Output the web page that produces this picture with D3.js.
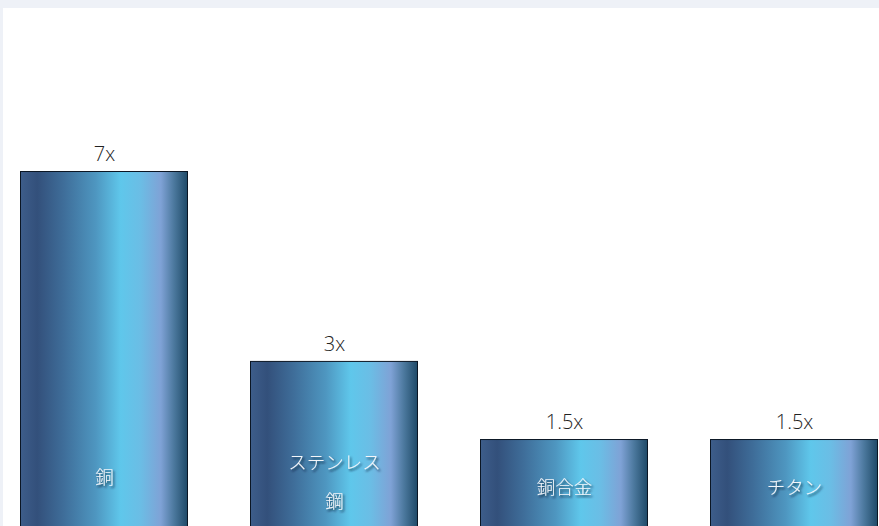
<!DOCTYPE html>
<html>
<head>
<meta charset="utf-8">
<script src="https://cdn.jsdelivr.net/npm/d3@7"></script>
<style>
  html, body { margin: 0; padding: 0; background: #fff; }
  svg { display: block; }
  .val { font-family: "Open Sans", "Noto Sans", sans-serif; font-weight: 300; font-size: 20px; fill: #222; }
  .cat { font-family: "Noto Sans CJK JP", "Noto Sans", sans-serif; font-weight: 300; font-size: 18.5px; fill: #f4f6fa; }
</style>
</head>
<body>
<script>
// materials, multiplier labels and the drawn bar level (visual height, 0-100)
var materials = [["銅"], ["ステンレス", "鋼"], ["銅合金"], ["チタン"]];
var multipliers = ["7x", "3x", "1.5x", "1.5x"];
var barLevel = [100, 46.5, 24.5, 24.5];

var width = 879, height = 526;

var svg = d3.select("body").append("svg")
  .attr("width", width)
  .attr("height", height);

var defs = svg.append("defs");

// metallic horizontal gradient
var grad = defs.append("linearGradient")
  .attr("id", "metal")
  .attr("x1", "0%").attr("x2", "100%")
  .attr("y1", "0%").attr("y2", "0%");
[
  [0, "#3d5d8a"], [0.1, "#33507b"], [0.25, "#3e6c98"], [0.45, "#4e96c0"],
  [0.6, "#5fc7eb"], [0.72, "#6bbde5"], [0.84, "#7fa2d6"], [0.92, "#4b789d"],
  [1, "#1f4a68"]
].forEach(function(s) {
  grad.append("stop").attr("offset", s[0]).attr("stop-color", s[1]);
});

var shadow = defs.append("filter").attr("id", "shadow")
  .attr("x", "-20%").attr("y", "-20%").attr("width", "150%").attr("height", "160%");
shadow.append("feDropShadow")
  .attr("dx", 1.5).attr("dy", 2).attr("stdDeviation", 1.2)
  .attr("flood-color", "#0a1a30").attr("flood-opacity", 0.8);

// page frame (light band at top and left)
svg.append("rect").attr("width", width).attr("height", height).attr("fill", "#eef1f7");
svg.append("rect").attr("x", 3).attr("y", 8).attr("width", width - 3).attr("height", height - 8).attr("fill", "#fff");

var x = d3.scaleBand()
  .domain(d3.range(materials.length))
  .range([21, 878])
  .paddingInner(0.274)
  .paddingOuter(0);

var y = d3.scaleLinear()
  .domain([0, 100])
  .range([526, 171]);

var bars = svg.selectAll(".bar")
  .data(barLevel)
  .enter().append("g")
  .attr("class", "bar");

bars.append("rect")
  .attr("x", function(d, i) { return Math.round(x(i)) - 0.5; })
  .attr("y", function(d) { return y(d) + 0.5; })
  .attr("width", Math.round(x.bandwidth()))
  .attr("height", function(d) { return y(0) - y(d) + 2; })
  .attr("fill", "url(#metal)")
  .attr("stroke", "#0b1624")
  .attr("stroke-width", 1);

bars.append("text")
  .attr("class", "val")
  .attr("x", function(d, i) { return x(i) + x.bandwidth() / 2; })
  .attr("y", function(d) { return y(d) - 10; })
  .attr("text-anchor", "middle")
  .text(function(d, i) { return multipliers[i]; });

bars.each(function(d, i) {
  var lines = materials[i];
  var cy = lines.length > 1 ? 463 : (i == 0 ? 478 : 488);
  var t = d3.select(this).append("text")
    .attr("class", "cat")
    .attr("text-anchor", "middle")
    .attr("filter", "url(#shadow)");
  lines.forEach(function(s, k) {
    t.append("tspan")
      .attr("x", x(i) + x.bandwidth() / 2)
      .attr("y", cy + k * 39)
      .attr("dy", "0.35em")
      .text(s);
  });
});
</script>
</body>
</html>
